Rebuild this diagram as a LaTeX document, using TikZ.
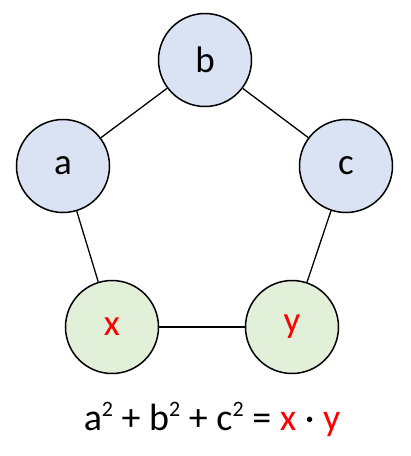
\documentclass[tikz,border=0pt]{standalone}
\usepackage{fontspec}
\setmainfont{Carlito}
\definecolor{nodeblue}{HTML}{DAE3F3}
\definecolor{nodegreen}{HTML}{E2F0D9}
\definecolor{red}{HTML}{FF0000}
\newcommand{\sq}{\raisebox{0.36em}{\fontsize{22}{22}\selectfont 2}}
\begin{document}
\begin{tikzpicture}[x=1pt,y=-1pt,
  vert/.style={circle,draw=black,line width=1.5pt,minimum size=93pt,inner sep=0pt,font=\fontsize{37}{42}\selectfont},
  bluev/.style={vert,fill=nodeblue},
  greenv/.style={vert,fill=nodegreen,text=red},
  edge/.style={line width=1.3pt}]
\useasboundingbox (0,0) rectangle (411,456);
\node[bluev] (b) at (205,60) {b};
\node[bluev] (a) at (63,166) {a};
\node[bluev] (c) at (346,166) {c};
\node[greenv] (x) at (112,327) {x};
\node[greenv] (y) at (292,327) {y};
\draw[edge] (a) -- (b);
\draw[edge] (b) -- (c);
\draw[edge] (c) -- (y);
\draw[edge] (y) -- (x);
\draw[edge] (x) -- (a);
\node[font=\fontsize{38}{42}\selectfont, anchor=base, inner sep=0pt] (f) at (212,430) {a\sq{} + b\sq{} + c\sq{} = \textcolor{red}{x} · \textcolor{red}{y}};
\end{tikzpicture}
\end{document}
